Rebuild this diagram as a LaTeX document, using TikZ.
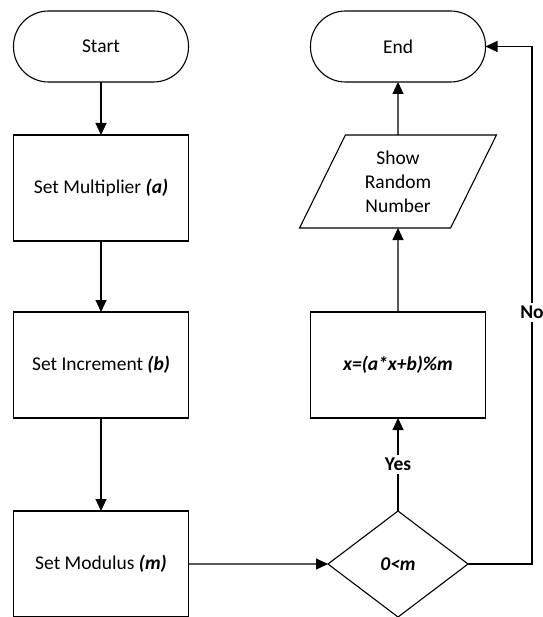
\documentclass[tikz,border=0pt]{standalone}
\usepackage{fontspec}
\setmainfont{Carlito}
\usetikzlibrary{positioning, shapes.geometric, arrows.meta}

\tikzset{
    every node/.style={font=\fontsize{19.5}{24}\selectfont, align=center, inner sep=2pt, outer sep=0pt},
    term/.style={draw, rectangle, rounded corners=35pt, minimum width=175pt, minimum height=71pt},
    proc/.style={draw, rectangle, minimum width=175pt, minimum height=106pt},
    io/.style={draw, trapezium, trapezium left angle=65, trapezium right angle=115,
        minimum width=197pt, minimum height=93pt, trapezium stretches=true},
    decide/.style={draw, diamond, minimum width=140pt, minimum height=106pt, inner sep=0pt},
    arr/.style={-{Triangle[length=12pt, width=11pt]}},
    lbl/.style={fill=white, font=\fontsize{19.5}{24}\selectfont\bfseries, inner sep=3pt}
}

\begin{document}
\begin{tikzpicture}[line width=1.1pt]
        \useasboundingbox (0,0) rectangle (542pt,-617pt);
        \node [term] (start) at (101pt,-46.5pt) {Start};
        \node [proc, below=53pt of start] (mult) {Set Multiplier \textbf{\textit{(a)}}};
        \node [proc, below=71pt of mult] (incr) {Set Increment \textbf{\textit{(b)}}};
        \node [proc, below=93pt of incr] (modu) {Set Modulus \textbf{\textit{(m)}}};
        \node [term, right=122pt of start] (stop) {End};
        \node [io, below=53pt of stop] (show) {Show\\Random\\Number};
        \node [proc, below=84pt of show] (rand) {\textbf{\textit{x=(a*x+b)\%m}}};
        \node [decide, below=93pt of rand] (test) {\textbf{\textit{0<m}}};
        \draw [arr] (start) to (mult);
        \draw [arr] (mult) to (incr);
        \draw [arr] (incr) to (modu);
        \draw [arr] (modu) to (test);
        \draw [arr] (test) to node [lbl] {Yes} (rand);
        \draw [arr] (rand) to (show);
        \draw [arr] (show) to (stop);
        \draw [arr] (test.east) -- ++(64pt,0) |- node [lbl, pos=0.243] {No} (stop.east);
    \end{tikzpicture}
\end{document}
